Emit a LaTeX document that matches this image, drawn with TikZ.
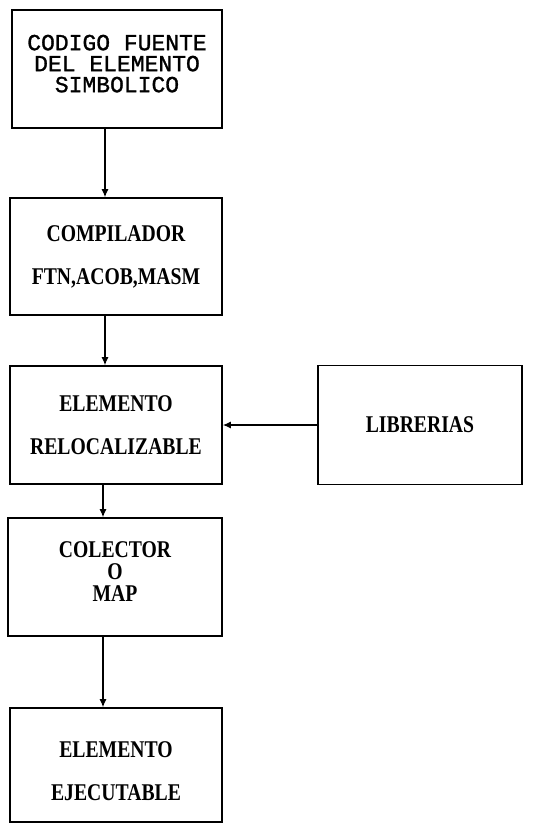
\documentclass[tikz,border=0pt]{standalone}
\usepackage{fontspec}
\usepackage{tikz}
\usetikzlibrary{arrows.meta, positioning}
\newfontfamily\boxfont{Liberation Serif}[FakeStretch=0.82]
\newfontfamily\codefont{Liberation Mono}[FakeBold=1.2]

\begin{document}
\begin{tikzpicture}[x=1pt, y=-1pt,
  stage/.style={draw, line width=1.6pt, minimum width=212pt, minimum height=117pt, align=center, inner sep=0pt, font=\boxfont\bfseries\fontsize{24}{21}\selectfont},
  codebox/.style={stage, font=\codefont\fontsize{23}{21}\selectfont},
  arr/.style={-{Latex[length=8pt, width=7pt]}, line width=1.2pt}
]
\useasboundingbox (0,0) rectangle (539,825);

\node[codebox, minimum width=210pt, minimum height=118pt] (code) at (117,69) {CODIGO FUENTE\\DEL ELEMENTO\\SIMBOLICO\\[-10pt]};
\node[stage] (comp) at (116,256.5) {COMPILADOR\\[22pt]FTN,ACOB,MASM};
\node[stage, minimum height=118pt] (reloc) at (116,425) {ELEMENTO\\[22pt]RELOCALIZABLE};
\node[stage, minimum width=204pt, minimum height=119pt] (lib) at (420,425) {LIBRERIAS};
\node[stage, minimum width=214pt, minimum height=118pt] (col) at (115,577) {COLECTOR\\[1pt]O\\[1pt]MAP\\[-10pt]};
\node[stage, minimum height=114pt] (exe) at (116,765) {\\[8pt]ELEMENTO\\[22pt]EJECUTABLE};

\draw[arr] ([xshift=-12pt]code.south) -- ([xshift=-11pt]comp.north);
\draw[arr] ([xshift=-11pt]comp.south) -- ([xshift=-11pt]reloc.north);
\draw[arr] (lib) -- (reloc);
\draw[arr] ([xshift=-13pt]reloc.south) -- ([xshift=-12pt]col.north);
\draw[arr] ([xshift=-12pt]col.south) -- ([xshift=-13pt]exe.north);
\end{tikzpicture}
\end{document}
